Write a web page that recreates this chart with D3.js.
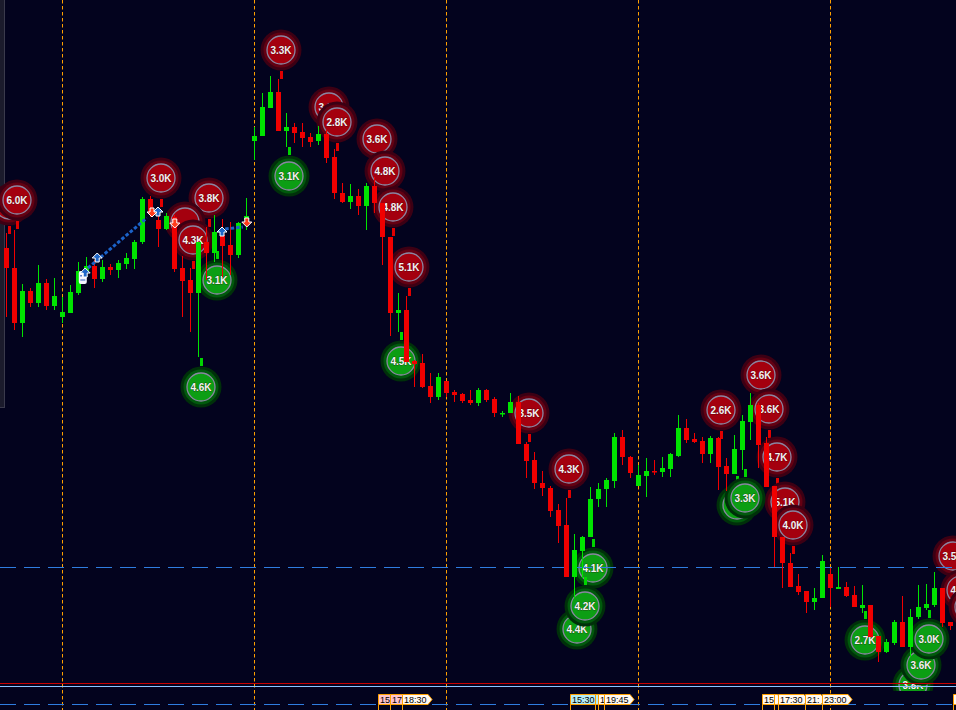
<!DOCTYPE html>
<html><head><meta charset="utf-8">
<script src="https://cdn.jsdelivr.net/npm/d3@7/dist/d3.min.js"></script>
<style>html,body{margin:0;padding:0;background:#03031e;overflow:hidden}svg{display:block}</style>
</head><body>
<script>
// ---------- DATA ----------
const candleOpen = [752,732,677,709,697,717,694,683,687,707, 728,734,721,733,730,736,741,758,801,780,
  771,783,732,720,707,758,747,765,755,745, 780,859,864,892,908,869,873,868,863,859,
  866,843,807,798,804,794,814,797,763,687, 690,639,637,614,603,619,608,606,600,597,
  610,601,586,587,598,556,540,517,512,490, 475,423,449,463,501,511,519,563,543,514,
  524,529,528,531,544,572,561,559,546,562, 534,526,550,578,595,557,514,463,437,414,
  409,398,402,426,411,413,405,392,395,364, 348,357,378,353,383,392,395,412,378];
const candleHigh = [767,770,716,712,735,721,722,703,715,738, 743,740,740,736,740,747,760,803,804,793,
  787,785,744,732,758,773,785,781,778,778, 802,873,907,924,921,887,877,877,867,874,
  870,851,817,816,811,817,823,797,763,707, 704,640,646,627,627,619,610,607,610,612,
  611,603,589,607,604,558,548,529,514,496, 502,466,464,513,517,522,567,570,544,535,
  542,540,543,547,585,581,567,563,564,563, 542,565,585,607,597,563,514,463,447,426,
  409,412,445,432,433,418,414,415,395,364, 361,380,404,391,415,416,428,412,378];
const candleLow = [683,670,663,693,693,690,690,677,687,705, 727,712,718,725,722,731,731,756,783,753,
  770,728,683,668,643,720,738,723,725,742, 770,840,864,892,869,853,857,853,853,855,
  837,801,797,791,785,770,787,735,664,668, 638,613,612,597,600,603,598,597,595,594,
  598,583,583,587,556,522,511,504,483,457, 423,402,422,463,493,493,512,535,522,514,
  503,525,523,523,543,557,557,537,537,510, 509,526,530,560,532,513,433,412,413,405,
  387,390,402,393,411,403,393,387,363,338, 347,355,353,343,381,390,393,373,370];
const candleClose = [732,677,709,697,717,694,704,688,708,729, 734,721,733,730,737,742,758,801,788,771,
  784,731,719,707,758,747,768,754,745,777, 784,864,893,908,869,873,867,862,858,866,
  842,807,798,804,794,814,797,763,687,690, 638,636,613,603,623,607,605,599,597,610,
  600,587,587,598,556,539,517,512,489,474, 423,450,463,501,511,520,563,543,527,525,
  529,528,532,546,572,560,558,546,562,533, 526,551,579,595,555,513,463,437,413,408,
  398,402,439,412,413,404,393,395,363,348, 358,378,353,383,393,396,412,377,374];

const sessionBreaks = [7, 31, 55, 79, 103];

const bubbleIdx   = [0,1,19,25,22,23,34,40,41,46,47,48,50,65,70,89,94,95,96,97,98,118,119,120,
                     35,26,24,49,71,73,72,91,92,107,113,114,115];
const bubblePrice = [795,800,822,802,778,760,950,893,878,861,829,793,733,587,531,590,625,591,543,498,475,444,410,393,
                     824,720,613,639,371,432,394,495,502,360,315,335,361];
const bubbleLabel = ["","6.0K","3.0K","3.8K","","4.3K","3.3K","3.0K","2.8K","3.6K","4.8K","4.8K","5.1K","3.5K","4.3K","2.6K","3.6K","3.6K","4.7K","5.1K","4.0K","3.5K","4.2K","3.9K",
                     "3.1K","3.1K","4.6K","4.5K","4.4K","4.1K","4.2K","","3.3K","2.7K","3.8K","3.6K","3.0K"];
const bubbleSide  = ["s","s","s","s","s","s","s","s","s","s","s","s","s","s","s","s","s","s","s","s","s","s","s","s",
                     "b","b","b","b","b","b","b","b","b","b","b","b","b"];

const upArrowIdx = [9.9, 11.4, 19, 27];
const upArrowPrice = [727, 742, 788, 768];
const downArrowIdx = [18.25, 21.1, 30.1];
const downArrowPrice = [788, 777, 778];
const tradeLineIdx = [[10.25, 17.6], [27.4, 29.6]];
const tradeLinePrice = [[732, 782], [771, 773]];
const robotIdx = [9.6];
const robotPrice = [722];

const levelPrice = [433];

const timeLabelIdx  = [46.5, 48, 49.5, 70.5, 73.65, 74, 74.75, 94.5, 96, 96.5, 99.9, 102, 118.4];
const timeLabelText = ["15","17","18:30","15:30","","1","19:45","15","","17:30","21:","23:00",""];
const timeLabelFill = ["#ffc4cc","#ffc4cc","#fff8f0","#b4ecf4","#b4ecf4","#fff8f0","#fff8f0","#fff8f0","#fff8f0","#fff8f0","#fff8f0","#fff8f0","#fff8f0"];

// ---------- CHART ----------
const W = 956, H = 710, MAINH = 691;
const svg = d3.select("body").append("svg").attr("width", W).attr("height", H);
svg.append("rect").attr("width", W).attr("height", H).attr("fill", "#03031e");
const x = d3.scaleLinear().domain([0, 118]).range([6, 950]);
const y = d3.scaleLinear().domain([290, 1000]).range([710, 0]);

svg.append("defs").append("clipPath").attr("id", "mainclip")
  .append("rect").attr("x", 0).attr("y", 0).attr("width", W).attr("height", MAINH);

// left panel remnant
svg.append("rect").attr("x", -1).attr("y", -1).attr("width", 5.5).attr("height", 408.5)
  .attr("fill", "#1b1b2c").attr("stroke", "#3a3a4c");

// session separators
svg.append("g").selectAll("line").data(sessionBreaks).join("line")
  .attr("x1", d => x(d) + 0.5).attr("x2", d => x(d) + 0.5)
  .attr("y1", 0).attr("y2", H)
  .attr("stroke", "#ffa000").attr("stroke-width", 1).attr("stroke-dasharray", "3.5,2.5");

const main = svg.append("g").attr("clip-path", "url(#mainclip)");

// bubbles
const pal = {
  s: {g2: "#3c0014", g1: "#640012", c: "#a4000e", stem: "#e00000"},
  b: {g2: "#00300a", g1: "#005a0c", c: "#0c9e14", stem: "#00d400"}
};
const bubbles = bubbleIdx.map((d, k) => ({i: d, p: bubblePrice[k], t: bubbleLabel[k], s: bubbleSide[k]}));
const bg = main.append("g").selectAll("g").data(bubbles).join("g")
  .attr("transform", d => `translate(${x(d.i) + 3},${y(d.p)})`);
bg.append("line")
  .attr("x1", 0.5).attr("x2", 0.5)
  .attr("y1", d => d.s === "s" ? 21 : -21).attr("y2", d => d.s === "s" ? 29 : -29)
  .attr("stroke", d => pal[d.s].stem).attr("stroke-width", 3);
bg.append("circle").attr("r", 20.5).attr("fill", d => pal[d.s].g2);
bg.append("circle").attr("r", 17.5).attr("fill", d => pal[d.s].g1);
bg.append("circle").attr("r", 14).attr("fill", d => pal[d.s].c)
  .attr("stroke", "#8a86a2").attr("stroke-width", 1.3);
bg.append("text").text(d => d.t)
  .attr("text-anchor", "middle").attr("y", 3.6)
  .attr("font-family", "'Liberation Sans', Arial, sans-serif").attr("font-weight", "bold")
  .attr("font-size", 10).attr("fill", "#f2f2f2")
  .attr("stroke", "#2a0008").attr("stroke-width", 0.4).attr("paint-order", "stroke");

// level line
main.append("g").selectAll("line").data(levelPrice).join("line")
  .attr("x1", 0).attr("x2", W).attr("y1", d => y(d) + 0.5).attr("y2", d => y(d) + 0.5)
  .attr("stroke", "#2f7de0").attr("stroke-width", 1).attr("stroke-dasharray", "16,8");

// candles
const candles = candleOpen.map((o, i) => ({i, o, h: candleHigh[i], l: candleLow[i], c: candleClose[i]}));
const cg = main.append("g").selectAll("g").data(candles).join("g");
const col = d => d.c >= d.o ? "#00e400" : "#f00000";
cg.append("line")
  .attr("x1", d => x(d.i) + 0.5).attr("x2", d => x(d.i) + 0.5)
  .attr("y1", d => y(d.h)).attr("y2", d => y(d.l))
  .attr("stroke", col).attr("stroke-width", 1);
cg.append("rect")
  .attr("x", d => x(d.i) - 2).attr("width", 5)
  .attr("y", d => y(Math.max(d.o, d.c)))
  .attr("height", d => Math.max(1.5, Math.abs(y(d.o) - y(d.c))))
  .attr("fill", col);

// trade lines
tradeLineIdx.forEach((pair, k) => {
  main.append("line")
    .attr("x1", x(pair[0])).attr("y1", y(tradeLinePrice[k][0]))
    .attr("x2", x(pair[1])).attr("y2", y(tradeLinePrice[k][1]))
    .attr("stroke", "#1b62c8").attr("stroke-width", 3).attr("stroke-dasharray", "3.5,2");
});

// robot icon
robotIdx.forEach((d, k) => {
  const g = main.append("g").attr("transform", `translate(${x(d)},${y(robotPrice[k])})`);
  g.append("rect").attr("x", -4).attr("y", -7).attr("width", 8).attr("height", 13).attr("rx", 2).attr("fill", "#f4f4ff");
  g.append("rect").attr("x", -2.5).attr("y", -3).attr("width", 1.5).attr("height", 1.5).attr("fill", "#3060c0");
  g.append("rect").attr("x", 1).attr("y", -3).attr("width", 1.5).attr("height", 1.5).attr("fill", "#3060c0");
  g.append("rect").attr("x", -2.5).attr("y", 1.5).attr("width", 5).attr("height", 1).attr("fill", "#3060c0");
});

// arrows
const upPath = "M0,-5 L5,0 L2,0 L2,4 L-2,4 L-2,0 L-5,0 Z";
const downPath = "M0,5 L5,0 L2,0 L2,-4 L-2,-4 L-2,0 L-5,0 Z";
main.append("g").selectAll("path").data(upArrowIdx).join("path")
  .attr("d", upPath).attr("transform", (d, k) => `translate(${x(d)},${y(upArrowPrice[k])})`)
  .attr("fill", "#1f66c8").attr("stroke", "#ffffff").attr("stroke-width", 1);
main.append("g").selectAll("path").data(downArrowIdx).join("path")
  .attr("d", downPath).attr("transform", (d, k) => `translate(${x(d)},${y(downArrowPrice[k])})`)
  .attr("fill", "#ff3c1c").attr("stroke", "#ffffff").attr("stroke-width", 1);

// bottom separator lines
svg.append("line").attr("x1", 0).attr("x2", W).attr("y1", 683.5).attr("y2", 683.5).attr("stroke", "#c80000");
svg.append("line").attr("x1", 0).attr("x2", W).attr("y1", 686.5).attr("y2", 686.5).attr("stroke", "#8cc4ff");
svg.append("line").attr("x1", 0).attr("x2", W).attr("y1", 704.5).attr("y2", 704.5)
  .attr("stroke", "#2f7de0").attr("stroke-dasharray", "16,8");

// time labels (later labels drawn over earlier ones)
const tl = svg.append("g");
timeLabelIdx.forEach((d, k) => {
  const x0 = Math.round(x(d)) + 0.5;
  const g = tl.append("g");
  const path = g.append("path");
  const t = g.append("text").text(timeLabelText[k])
    .attr("x", x0 + 1.5).attr("y", 702.5)
    .attr("font-family", "'Liberation Sans', Arial, sans-serif").attr("font-size", 9).attr("fill", "#000");
  const w = Math.max(3, t.node().getComputedTextLength() + 3);
  path.attr("d", `M${x0},694.5 H${x0 + w} L${x0 + w + 4},699.5 L${x0 + w},704.5 H${x0} Z`)
    .attr("fill", timeLabelFill[k]).attr("stroke", "#ffa000").attr("stroke-width", 1);
  g.append("line").attr("x1", x0).attr("x2", x0).attr("y1", 704.5).attr("y2", 710)
    .attr("stroke", "#ffa000");
});
</script>
</body></html>
